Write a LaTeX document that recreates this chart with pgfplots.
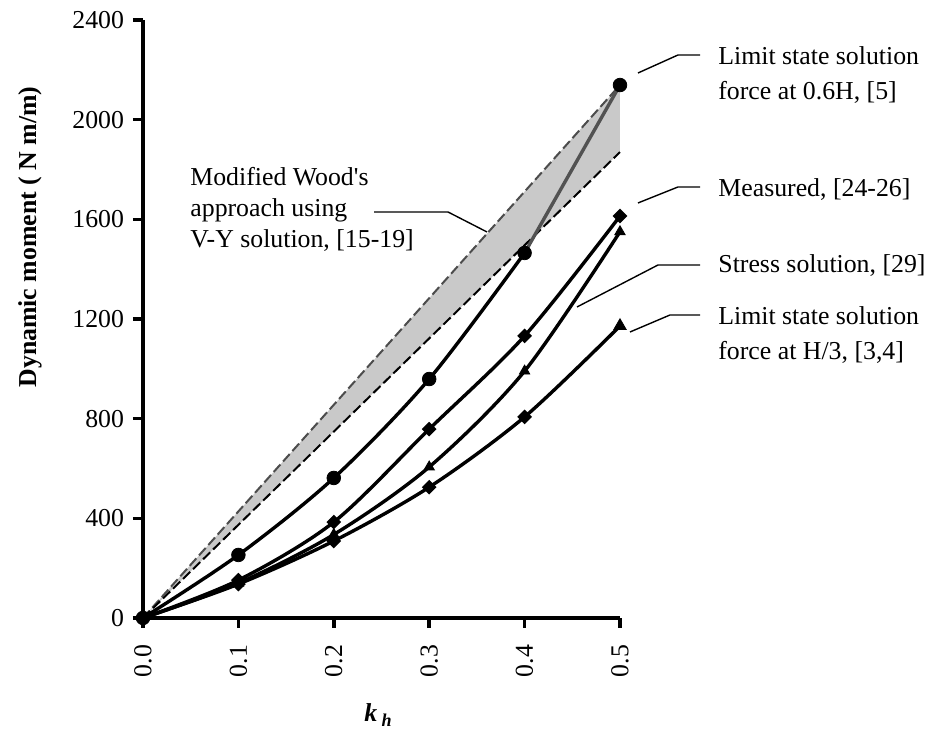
\documentclass[border=0pt]{standalone}
\usepackage{pgfplots}
\pgfplotsset{compat=1.18}
\usepackage{fontspec}
\setmainfont{Liberation Serif}
\begin{document}
\fontsize{12.9}{15}\selectfont
\begin{tikzpicture}
\path[use as bounding box] (0,0) rectangle (463.5pt,365.5pt);
\begin{axis}[
  at={(71.5pt,56.5pt)}, anchor=south west,
  scale only axis, width=238.5pt, height=299pt,
  xmin=0, xmax=0.5, ymin=0, ymax=2400,
  axis x line=bottom, axis y line=left,
  axis line style={-, line width=1.8pt, black},
  xtick={0,0.1,0.2,0.3,0.4,0.5},
  xticklabels={0.0,0.1,0.2,0.3,0.4,0.5},
  ytick={0,400,800,1200,1600,2000,2400},
  tick align=outside, major tick length=5pt,
  tick style={line width=1.8pt, black},
  /pgf/number format/assume math mode=true,
  /pgf/number format/1000 sep={},
  yticklabel style={font=\fontsize{12.9}{15}\selectfont},
  xticklabel style={font=\fontsize{12.9}{15}\selectfont, rotate=90, anchor=east},
  xticklabel shift=4pt,
  clip=false,
]
% shaded band
\addplot[draw=none, fill=black!21] coordinates {(0,0) (0.5,2139) (0.5,1870) (0,0)};
\addplot[black!70, line width=1pt, dash pattern=on 5pt off 2pt] coordinates {(0,0) (0.5,2139)};
\addplot[black, line width=1pt, dash pattern=on 5pt off 2pt] coordinates {(0,0) (0.5,1870)};
% limit state 0.6H
\addplot[black, line width=1.7pt, smooth] coordinates {(0,0) (0.1,253) (0.2,562) (0.3,959) (0.4,1465)};
\addplot[black!68, line width=1.7pt] coordinates {(0.4,1465) (0.5,2139)};
\addplot[only marks, mark=*, mark size=3.4pt, black] coordinates {(0,0) (0.1,253) (0.2,562) (0.3,959) (0.4,1465) (0.5,2139)};
% measured
\addplot[black, line width=1.7pt, smooth] coordinates {(0,0) (0.1,152) (0.2,385) (0.3,758) (0.4,1132) (0.5,1613)};
\addplot[only marks, mark=square*, mark size=2.2pt, mark options={rotate=45, line width=0.8pt}, black] coordinates {(0,0) (0.1,152) (0.2,385) (0.3,758) (0.4,1132) (0.5,1613)};
% stress solution
\addplot[black, line width=1.7pt, smooth] coordinates {(0,0) (0.1,140) (0.2,335) (0.3,606) (0.4,991) (0.5,1550)};
\addplot[only marks, mark=triangle*, mark size=3pt, mark options={line width=0.4pt}, black] coordinates {(0,0) (0.1,140) (0.2,335) (0.3,606) (0.4,991) (0.5,1550)};
% limit state H/3
\addplot[black, line width=1.7pt, smooth] coordinates {(0,0) (0.1,136) (0.2,309) (0.3,525) (0.4,807) (0.5,1172)};
\addplot[only marks, mark=square*, mark size=2.2pt, mark options={rotate=45, line width=0.8pt}, black] coordinates {(0,0) (0.1,136) (0.2,309) (0.3,525) (0.4,807)};
\addplot[only marks, mark=triangle*, mark size=3.6pt, black] coordinates {(0.5,1172)};
\end{axis}
% axis labels
\node[rotate=90, font=\fontsize{12.9}{15}\selectfont\bfseries] at (15pt,247pt) {Dynamic moment ( N m/m)};
\node[anchor=base west, inner sep=0pt, font=\fontsize{12.9}{15}\selectfont\bfseries\itshape] at (182pt,4.5pt) {k\,\textsubscript{h}};
% annotations right
\draw[line width=0.7pt] (319pt,329pt) -- (339pt,338pt) -- (350pt,338pt);
\node[anchor=base west, inner sep=0pt] at (359pt,333pt) {Limit state solution};
\node[anchor=base west, inner sep=0pt] at (359pt,315.5pt) {force at 0.6H, [5]};
\draw[line width=0.7pt] (319pt,264pt) -- (339pt,272pt) -- (350pt,272pt);
\node[anchor=base west, inner sep=0pt] at (359pt,267pt) {Measured, [24-26]};
\draw[line width=0.7pt] (288.5pt,212pt) -- (329pt,233pt) -- (350pt,233pt);
\node[anchor=base west, inner sep=0pt] at (359pt,229pt) {Stress solution, [29]};
\draw[line width=0.7pt] (315pt,199.5pt) -- (335pt,208pt) -- (350pt,208pt);
\node[anchor=base west, inner sep=0pt] at (359pt,203pt) {Limit state solution};
\node[anchor=base west, inner sep=0pt] at (359pt,185.5pt) {force at H/3, [3,4]};
% annotation left
\node[anchor=base west, inner sep=0pt] at (95pt,272.5pt) {Modified Wood\textquotesingle s};
\node[anchor=base west, inner sep=0pt] at (95pt,257pt) {approach using};
\node[anchor=base west, inner sep=0pt] at (95pt,241.5pt) {V-Y solution, [15-19]};
\draw[line width=0.7pt] (187pt,259.5pt) -- (224pt,259.5pt) -- (243.5pt,249.5pt);
\end{tikzpicture}
\end{document}
